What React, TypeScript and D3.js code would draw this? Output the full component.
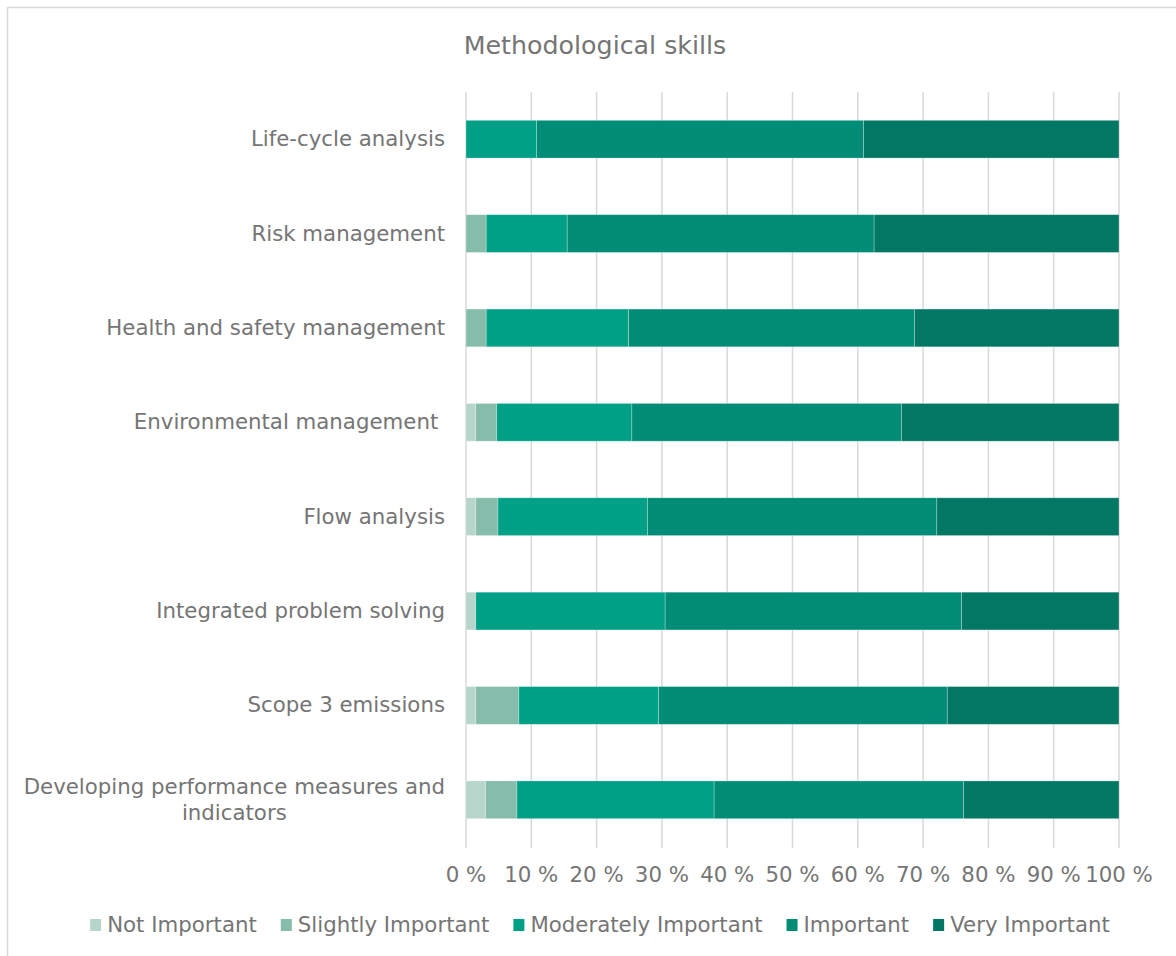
import React, { useEffect, useRef } from "react";
import * as d3 from "d3";

const categories = [
  "Life-cycle analysis",
  "Risk management",
  "Health and safety management",
  "Environmental management ",
  "Flow analysis",
  "Integrated problem solving",
  "Scope 3 emissions",
  "Developing performance measures and indicators",
];

const seriesNames = ["Not Important", "Slightly Important", "Moderately Important", "Important", "Very Important"];
const seriesColors = ["#b6d5cb", "#86bcab", "#00a087", "#008c77", "#027763"];

const notImportant = [0, 0, 0, 1.5, 1.5, 1.5, 1.5, 3.0];
const slightlyImportant = [0, 3.1, 3.1, 3.2, 3.4, 0, 6.6, 4.8];
const moderatelyImportant = [10.8, 12.4, 21.8, 20.7, 22.9, 29.0, 21.4, 30.2];
const important = [50.1, 47.0, 43.8, 41.3, 44.3, 45.4, 44.2, 38.2];
const veryImportant = [39.1, 37.5, 31.3, 33.3, 27.9, 24.1, 26.3, 23.8];

const xTicks = [0, 10, 20, 30, 40, 50, 60, 70, 80, 90, 100];
const title = "Methodological skills";

const FONT = "Verdana, 'DejaVu Sans', sans-serif";
const TEXT = "#757575";
const FS = 21.3;

export default function App() {
  const ref = useRef<SVGSVGElement | null>(null);

  useEffect(() => {
    const svg = d3.select(ref.current);
    svg.selectAll("*").remove();

    const W = 1176, H = 956;
    const x = d3.scaleLinear().domain([0, 100]).range([466, 1119]);
    const y = d3.scaleBand<string>().domain(categories).range([92, 847]).paddingInner(0.6).paddingOuter(0.3);

    svg.append("rect").attr("x", 0).attr("y", 0).attr("width", W).attr("height", H).attr("fill", "#fff");
    svg.append("rect").attr("x", 7.5).attr("y", 7.5).attr("width", W).attr("height", H)
      .attr("fill", "none").attr("stroke", "#d9d9d9").attr("stroke-width", 1.5);

    svg.append("text").attr("x", 595).attr("y", 54).attr("text-anchor", "middle")
      .attr("font-family", FONT).attr("font-size", 25.3).attr("fill", TEXT).text(title);

    // gridlines
    svg.append("g").selectAll("line").data(xTicks).join("line")
      .attr("x1", (d) => x(d)).attr("x2", (d) => x(d))
      .attr("y1", 92).attr("y2", 848)
      .attr("stroke", "#d9d9d9").attr("stroke-width", 1.5);

    // tick labels
    svg.append("g").selectAll("text").data(xTicks).join("text")
      .attr("x", (d) => x(d)).attr("y", 882).attr("text-anchor", "middle")
      .attr("font-family", FONT).attr("font-size", FS).attr("fill", TEXT)
      .text((d) => `${d} %`);

    const table = categories.map((c, i) => ({
      cat: c,
      v: [notImportant[i], slightlyImportant[i], moderatelyImportant[i], important[i], veryImportant[i]],
    }));
    const stack = d3.stack<any>().keys([0, 1, 2, 3, 4] as any).value((d: any, k: any) => d.v[k]);
    const series = stack(table as any);

    const gBars = svg.append("g");
    series.forEach((s, si) => {
      gBars.append("g").selectAll("rect").data(s).join("rect")
        .attr("x", (d: any) => x(d[0]))
        .attr("y", (d: any) => y(d.data.cat)!)
        .attr("width", (d: any) => Math.max(0, x(d[1]) - x(d[0])))
        .attr("height", y.bandwidth())
        .attr("fill", seriesColors[si])
        .attr("stroke", "rgba(255,255,255,0.35)")
        .attr("stroke-width", (d: any) => (d[1] - d[0] > 0 ? 0.75 : 0));
    });

    // category labels
    const gLab = svg.append("g");
    categories.forEach((c) => {
      const cy = y(c)! + y.bandwidth() / 2;
      if (c.startsWith("Developing")) {
        const lines = ["Developing performance measures and", "indicators"];
        const t = gLab.append("text").attr("font-family", FONT).attr("font-size", FS).attr("fill", TEXT)
          .attr("text-anchor", "middle");
        const t1 = t.append("tspan").text(lines[0]);
        const w = (t1.node() as SVGTSpanElement).getComputedTextLength();
        const cx = 445 - w / 2;
        t1.attr("x", cx).attr("y", cy - 13 + 7);
        t.append("tspan").attr("x", cx).attr("y", cy + 13 + 7).text(lines[1]);
      } else {
        gLab.append("text").attr("x", 445).attr("y", cy + 7).attr("text-anchor", "end")
          .style("white-space", "pre")
          .attr("font-family", FONT).attr("font-size", FS).attr("fill", TEXT).text(c);
      }
    });

    // legend
    const gLeg = svg.append("g");
    const items: { g: any; w: number }[] = [];
    seriesNames.forEach((n, i) => {
      const g = gLeg.append("g");
      g.append("rect").attr("x", 0).attr("y", 919).attr("width", 11).attr("height", 12).attr("fill", seriesColors[i]);
      const t = g.append("text").attr("x", 17).attr("y", 932).attr("font-family", FONT).attr("font-size", FS)
        .attr("fill", TEXT).text(n);
      const w = 17 + (t.node() as SVGTextElement).getComputedTextLength();
      items.push({ g, w });
    });
    const gap = 24;
    const total = items.reduce((a, b) => a + b.w, 0) + gap * (items.length - 1);
    let cx = 600 - total / 2;
    items.forEach((it) => {
      it.g.attr("transform", `translate(${cx},0)`);
      cx += it.w + gap;
    });
  }, []);

  return (
    <svg ref={ref} width={1176} height={956} style={{ position: "absolute", left: 0, top: 0 }} />
  );
}
